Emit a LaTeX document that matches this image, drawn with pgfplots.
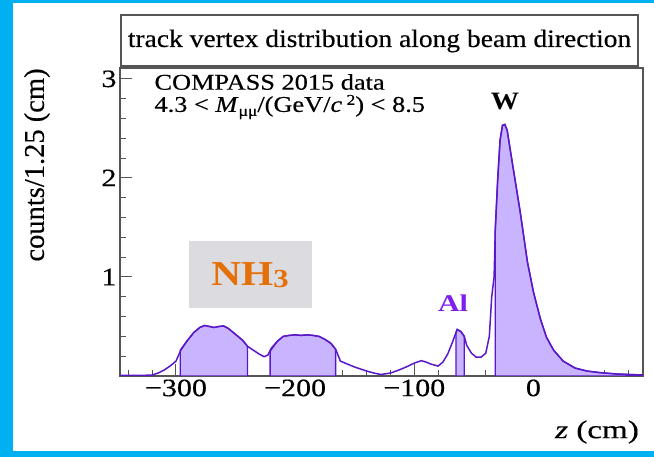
\documentclass[border=0pt]{standalone}
\usepackage{fontspec}
\setmainfont{Liberation Serif}
\newfontfamily\heavy[FakeBold=0.35]{Liberation Serif}
\usepackage{graphicx}
\usepackage{pgfplots}
\pgfplotsset{compat=1.18}
\definecolor{bordercyan}{RGB}{0,176,240}
\definecolor{histline}{RGB}{90,25,200}
\definecolor{histfill}{RGB}{200,180,255}
\definecolor{alcol}{RGB}{128,30,240}
\definecolor{nhorange}{RGB}{228,112,10}
\definecolor{nhgray}{RGB}{220,220,224}
\definecolor{framegray}{RGB}{85,85,85}
\newcommand{\hs}[2]{\scalebox{#1}[1]{#2}}
\begin{document}
\begin{tikzpicture}[x=1bp,y=1bp]
\fill[bordercyan] (0,0) rectangle (654,457);
\fill[white] (13,6) rectangle (654,454);
\draw[framegray, line width=1.5bp, fill=white] (121,391) rectangle (638,442);
\node at (379.5,416) {\heavy\fontsize{25bp}{30bp}\selectfont\hs{1.1}{track vertex distribution along beam direction}};
\begin{axis}[
  at={(120bp,81bp)}, anchor=south west, scale only axis,
  width=523bp, height=308bp,
  xmin=-347, xmax=92, ymin=0, ymax=3.11,
  axis line style={framegray, line width=1.6bp},
  xtick={-300,-200,-100,0},
  xticklabels={\hs{1.2}{−300},\hs{1.2}{−200},\hs{1.2}{−100},\hs{1.2}{0}},
  ytick={1,2,3},
  yticklabels={\hs{1.2}{1},\hs{1.2}{2},\hs{1.2}{3}},
  minor xtick={-340,-320,...,80},
  minor ytick={0.2,0.4,...,3.01},
  tick align=inside, xtick pos=left, ytick pos=left,
  major tick length=12bp, minor tick length=6bp,
  tick style={framegray, line width=1bp},
  ticklabel style={font=\heavy\fontsize{25bp}{28bp}\selectfont, text=black},
]
% filled target regions
\addplot[draw=histline, line width=1.3bp, fill=histfill] coordinates {
(-296.5,0) (-296.5,0.26) (-291,0.35) (-285,0.44) (-280,0.49) (-276,0.51) (-272,0.50) (-268,0.49) (-264,0.50) (-260,0.505) (-256,0.48) (-252,0.44) (-248,0.40) (-244,0.36) (-240,0.30) (-240,0)
} -- cycle;
\addplot[draw=histline, line width=1.3bp, fill=histfill] coordinates {
(-221,0) (-221,0.25) (-215,0.35) (-210,0.40) (-205,0.41) (-200,0.415) (-195,0.41) (-190,0.415) (-185,0.41) (-180,0.40) (-175,0.37) (-170,0.33) (-166,0.27) (-166,0)
} -- cycle;
\addplot[draw=histline, line width=1.3bp, fill=histfill] coordinates {
(-65,0) (-65,0.44) (-64,0.47) (-61,0.45) (-58,0.40) (-58,0)
} -- cycle;
\addplot[draw=histline, line width=1.3bp, fill=histfill] coordinates {
(-32,0) (-32,1.48) (-30,1.98) (-28,2.38) (-26,2.53) (-24,2.54) (-22,2.48) (-19,2.25) (-15,1.95) (-11,1.65) (-8,1.40) (-5,1.15) (0,0.85) (6,0.57) (11,0.39) (17,0.26) (25,0.15) (35,0.08) (45,0.05) (55,0.035) (70,0.02) (92,0.01) (92,0)
} -- cycle;
% full distribution
\addplot[histline, line width=1.5bp, mark=none] coordinates {
(-347,0.005) (-330,0.005) (-320,0.01) (-315,0.03) (-310,0.06) (-305,0.10) (-300,0.15) (-296,0.26) (-291,0.35) (-285,0.44) (-280,0.49) (-276,0.51) (-272,0.50) (-268,0.49) (-264,0.50) (-260,0.505) (-256,0.48) (-252,0.44) (-248,0.40) (-244,0.36) (-240,0.30) (-235,0.26) (-230,0.22) (-226,0.195) (-223,0.21) (-220,0.28) (-215,0.35) (-210,0.40) (-205,0.41) (-200,0.415) (-195,0.41) (-190,0.415) (-185,0.41) (-180,0.40) (-175,0.37) (-170,0.33) (-166,0.27) (-162,0.15) (-156,0.12) (-150,0.09) (-145,0.07) (-140,0.05) (-134,0.03) (-128,0.015) (-120,0.03) (-114,0.055) (-107,0.09) (-100,0.13) (-94,0.155) (-90,0.14) (-86,0.12) (-80,0.10) (-76,0.14) (-72,0.22) (-68,0.34) (-64,0.47) (-61,0.45) (-58,0.40) (-56,0.31) (-52,0.23) (-48,0.19) (-44,0.19) (-40,0.23) (-37,0.40) (-35,0.80) (-33,1.0) (-32,1.48) (-30,1.98) (-28,2.38) (-26,2.53) (-24,2.54) (-22,2.48) (-19,2.25) (-15,1.95) (-11,1.65) (-8,1.40) (-5,1.15) (0,0.85) (6,0.57) (11,0.39) (17,0.26) (25,0.15) (35,0.08) (45,0.05) (55,0.035) (70,0.02) (92,0.01)
};
\end{axis}
% annotations
\node[anchor=west] at (151,375) {\heavy\fontsize{22.5bp}{26bp}\selectfont\hs{1.17}{COMPASS 2015 data}};
\node[anchor=west] at (151,350) {\heavy\fontsize{22.5bp}{26bp}\selectfont\hs{1.17}{4.3 < \textit{M}\raisebox{-4bp}{\fontsize{15bp}{15bp}\selectfont μμ}/(GeV/\textit{c}\,\raisebox{7bp}{\fontsize{15bp}{15bp}\selectfont 2}) < 8.5}};
\node at (505,355) {\fontsize{25bp}{30bp}\selectfont\hs{1.13}{\textbf{W}}};
\node[text=alcol] at (453,154) {\fontsize{24bp}{28bp}\selectfont\hs{1.25}{\textbf{Al}}};
\fill[nhgray] (189,149) rectangle (312,216);
\node[text=nhorange] at (250,182) {\fontsize{35bp}{40bp}\selectfont\hs{1.18}{\textbf{NH}\raisebox{-2bp}{\fontsize{26bp}{26bp}\selectfont\textbf{3}}}};
\node[rotate=90] at (37,292) {\heavy\fontsize{28.5bp}{32bp}\selectfont counts/1.25 (cm)};
\node at (597,25) {\heavy\fontsize{25.5bp}{30bp}\selectfont\hs{1.3}{\textit{z}\ (cm)}};
\end{tikzpicture}
\end{document}
